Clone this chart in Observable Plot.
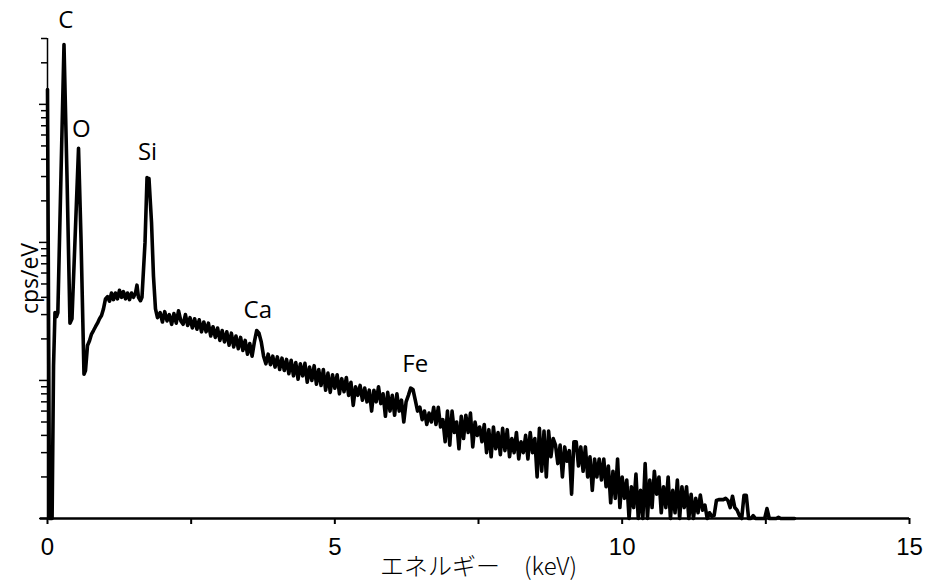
<!DOCTYPE html>
<html><head><meta charset="utf-8">
<script src="https://cdn.jsdelivr.net/npm/d3@7"></script>
<script src="https://cdn.jsdelivr.net/npm/@observablehq/plot@0.6"></script>
<style>body{margin:0;background:#fff;} #chart svg{display:block}</style>
</head><body><div id="chart"></div>
<script>
// Low-energy part of the spectrum (keV, cps/eV), irregular points around the C, O and Si peaks
const lowEnergy = [0.00,0.035,0.08,0.105,0.13,0.157,0.18,0.235,0.287,0.339,0.391,0.426,0.540,0.583,0.635,0.661,0.696,0.731,0.766,0.80,0.835,0.87,0.905,0.94,0.974,1.009,1.044,1.079,1.114,1.148,1.183,1.218,1.253,1.288,1.322,1.357,1.392,1.427,1.462,1.496,1.531,1.557,1.583,1.618,1.644,1.697,1.732,1.749,1.766,1.810,1.844,1.879,1.914];
const lowCps = [128,0.1,0.1,1.28,3.1,2.9,3.1,31,271,30.5,2.6,2.8,48,10.7,1.11,1.18,1.79,1.94,2.17,2.3,2.45,2.6,2.8,2.95,3.3,3.9,4.05,3.75,4.3,3.85,4.3,3.9,4.5,4.0,4.4,3.9,4.3,3.85,4.3,4.0,4.3,4.9,4.0,3.78,4.0,10,29.5,27,29,14,5.7,3.3,2.85];

// Continuum channels from 1.96 keV, 0.04 keV per channel (cps/eV)
const contStartKeV = 1.96;
const contStepKeV = 0.04;
const contCps = [
3.1,2.65,3.15,2.7,3.0,2.55,3.05,2.6,3.2,2.7,2.55,3.0,2.5,2.85,2.4,2.8,2.35,2.75,2.25,2.65,
2.25,2.6,2.1,2.45,2.05,2.4,1.95,2.3,1.9,2.25,1.8,2.2,1.75,2.1,1.7,2.05,1.65,1.95,1.55,1.85,
1.5,1.9,2.3,2.2,1.9,1.5,1.32,1.55,1.3,1.5,1.25,1.48,1.2,1.45,1.18,1.42,1.12,1.4,1.08,1.35,
1.02,1.32,1.08,1.33,0.97,1.25,1.0,1.28,0.94,1.2,0.92,1.2,0.85,1.13,0.82,1.1,0.88,1.1,0.8,1.03,
0.83,1.05,0.78,0.97,0.66,0.9,0.78,0.92,0.72,0.88,0.7,0.85,0.6,0.85,0.7,0.9,0.68,0.8,0.55,0.82,
0.6,0.78,0.56,0.8,0.6,0.72,0.5,0.7,0.78,0.88,0.86,0.72,0.6,0.64,0.52,0.6,0.48,0.58,0.5,0.64,
0.48,0.64,0.46,0.52,0.36,0.6,0.34,0.6,0.42,0.5,0.32,0.55,0.38,0.56,0.42,0.58,0.33,0.5,0.4,0.46,
0.36,0.48,0.3,0.44,0.28,0.46,0.32,0.42,0.29,0.45,0.31,0.44,0.28,0.38,0.3,0.42,0.27,0.36,0.3,0.4,
0.27,0.42,0.3,0.38,0.2,0.45,0.22,0.43,0.2,0.43,0.28,0.38,0.34,0.25,0.34,0.2,0.33,0.26,0.31,0.15,
0.36,0.36,0.24,0.33,0.22,0.33,0.2,0.28,0.16,0.27,0.2,0.27,0.19,0.27,0.17,0.24,0.13,0.22,0.14,0.27,
0.12,0.2,0.14,0.19,0.1,0.17,0.12,0.21,0.1,0.16,0.1,0.25,0.1,0.19,0.12,0.22,0.15,0.2,0.11,0.17,
0.12,0.2,0.1,0.16,0.11,0.19,0.1,0.17,0.12,0.17,0.1,0.15,0.1,0.14,0.11,0.148,0.115,0.125,0.1,0.11,
0.104,0.105,0.135,0.137,0.137,0.137,0.14,0.135,0.12,0.145,0.12,0.115,0.105,0.1,0.147,0.147,0.1,0.1,0.105,0.1,
0.1,0.1,0.1,0.1,0.118,0.1,0.1,0.1,0.1,0.102,0.1,0.1,0.1,0.1,0.1,0.1,0.1
];

// Peak labels
const peakNames = ["C","O","Si","Ca","Fe"];
const peakLabelKeV = [0.32,0.59,1.74,3.66,6.40];
const peakLabelCps = [360,58,39.5,2.85,1.15];

// Axes
const xTicks = [0,2.5,5,7.5,10,12.5,15];
const xTickLabels = [0,5,10,15];
const yMajorTicks = [0.1,1,10,100];
const yMinorTicks = [0.2,0.3,0.4,0.5,0.6,0.7,0.8,0.9,2,3,4,5,6,7,8,9,20,30,40,50,60,70,80,90,200,300];
const xTitle = "エネルギー　(keV)";
const yTitle = "cps/eV";

const spectrum = lowEnergy.map((e,i)=>({keV:e, cps:lowCps[i]}))
  .concat(contCps.map((c,i)=>({keV: contStartKeV + i*contStepKeV, cps:c})));
const peaks = peakNames.map((n,i)=>({name:n, keV:peakLabelKeV[i], cps:peakLabelCps[i]}));

const chart = Plot.plot({
  width: 935, height: 582,
  marginLeft: 47, marginRight: 26, marginTop: 38, marginBottom: 64,
  x: {domain: [0,15]},
  y: {type: "log", domain: [0.1, 300]},
  style: {background: "white", color: "black"},
  marks: [
    Plot.ruleX([0], {stroke: "black", strokeWidth: 1.5}),
    Plot.axisY(yMinorTicks, {tickSize: 6, fill: "none", label: null, strokeWidth: 1.5, tickFormat: () => ""}),
    Plot.axisY(yMajorTicks, {tickSize: 8, fill: "none", label: null, strokeWidth: 1.5, tickFormat: () => ""}),
    Plot.line(spectrum, {x: "keV", y: "cps", stroke: "black", strokeWidth: 3.6, strokeLinejoin: "round"}),
    Plot.ruleY([0.1], {stroke: "black", strokeWidth: 2.5, insetLeft: -7}),
    Plot.axisX(xTicks, {tickSize: 6, fill: "none", label: null, strokeWidth: 2, tickFormat: () => ""}),
    Plot.axisX(xTickLabels, {tickSize: 0, tickPadding: 19, fontSize: 24, label: null, fontFamily: "'Liberation Sans Narrow', 'Liberation Sans', sans-serif", fontWeight: 300}),
    Plot.text(peaks, {x: "keV", y: "cps", text: "name", lineAnchor: "bottom", fontSize: 24, fontFamily: "'Open Sans', sans-serif", fill: "black"}),
    Plot.text([yTitle], {frameAnchor: "left", textAnchor: "middle", lineAnchor: "middle", rotate: -90, dx: -17, fontSize: 23, fontFamily: "'Open Sans', sans-serif", fill: "black"}),
    Plot.text([xTitle], {frameAnchor: "bottom", lineAnchor: "middle", dy: 49, fontSize: 24, fontFamily: "'Noto Sans CJK JP', sans-serif", fontWeight: 300, fill: "black"})
  ]
});
document.getElementById("chart").appendChild(chart);
</script>
</body></html>
